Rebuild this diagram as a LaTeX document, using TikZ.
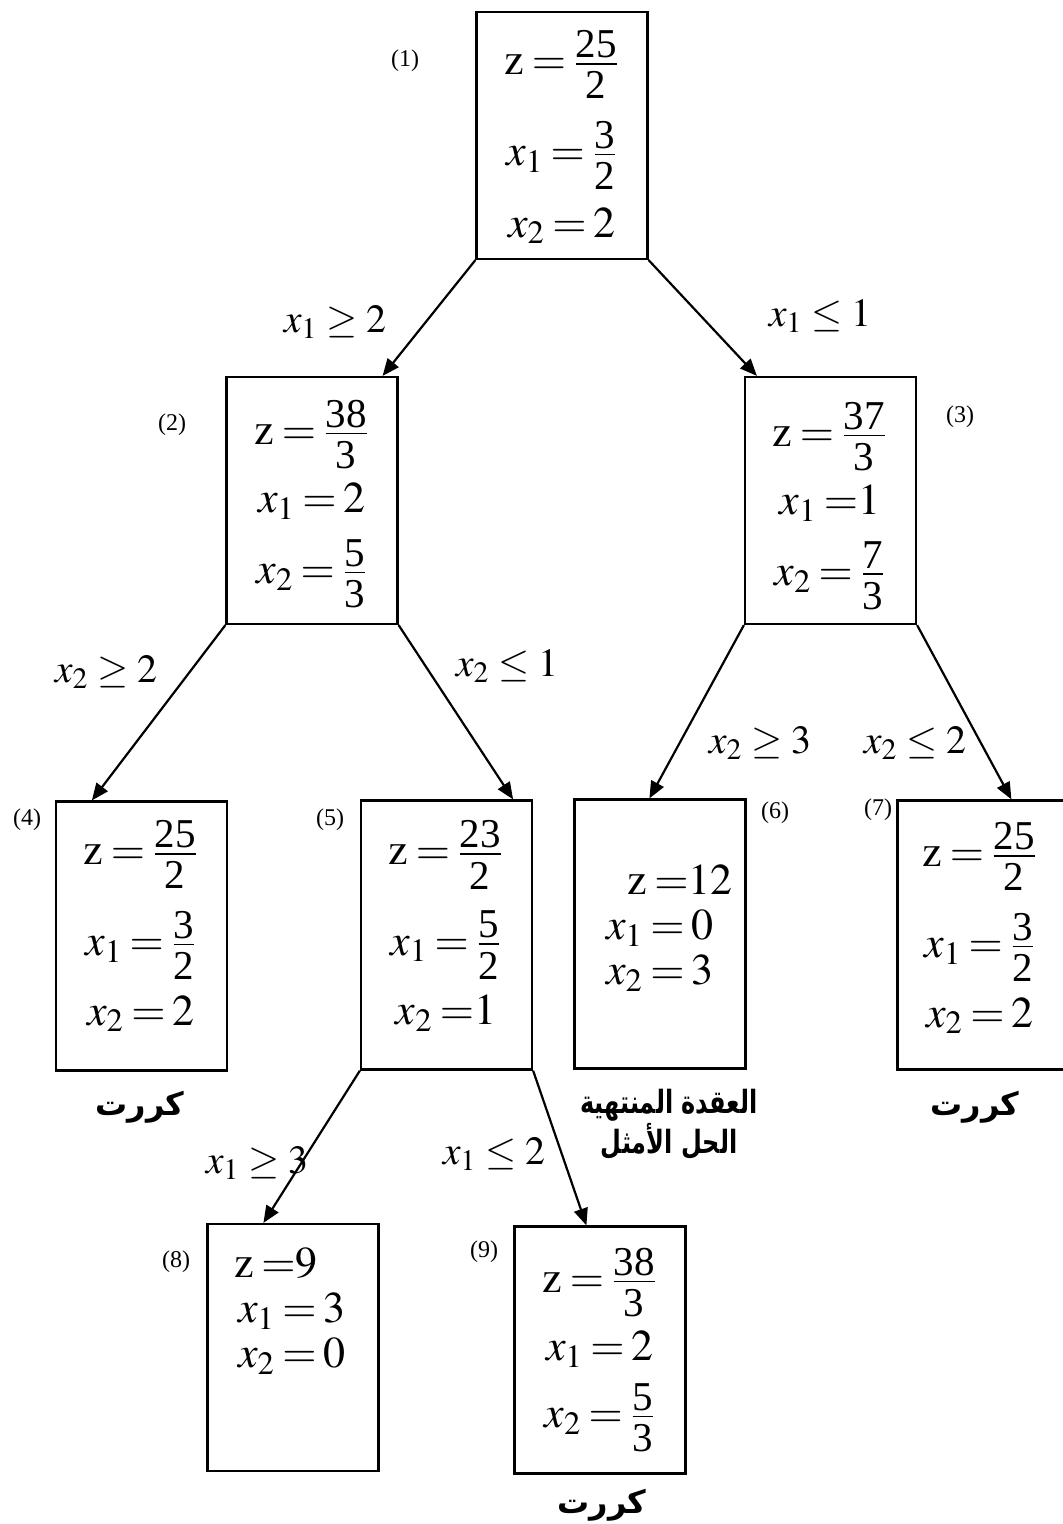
\documentclass[tikz,border=0pt]{standalone}
\usepackage{amsmath}
\usepackage{mathptmx}
\usepackage{graphicx}
\usepackage{fontspec}
\setmainfont{Liberation Serif}
\newfontfamily\arabicfont[Script=Arabic]{DejaVu Sans}
\TeXXeTstate=1
\usetikzlibrary{arrows.meta,calc}
\newcommand{\eqsize}{\fontsize{22}{22.5}\selectfont\thickmuskip=3mu plus 2mu\relax}
\newcommand{\cutsize}{\fontsize{20}{24}\selectfont\thickmuskip=4mu plus 2mu\relax}
% compact fraction with slightly smaller digits
\newcommand{\fr}[2]{\genfrac{}{}{}{1}{\mbox{\fontsize{20.5}{20.5}\selectfont#1}}{\mbox{\fontsize{20.5}{20.5}\selectfont\rule{0pt}{16.3pt}#2}}}

\begin{document}
\begin{tikzpicture}[x=0.5pt,y=-0.5pt,>={Triangle[length=8.5pt,width=7pt]},
  nodebox/.style={draw,line width=1.1pt,minimum width=85.5pt,minimum height=123.5pt,inner sep=0pt},
  tallbox/.style={nodebox,minimum height=134.5pt},
  vals/.style={font=\eqsize,align=center,inner sep=0pt},
  tag/.style={font=\fontsize{12}{14}\selectfont,inner sep=0pt},
  cut/.style={font=\cutsize,inner sep=0pt},
  note/.style={font=\arabicfont\bfseries\fontsize{16}{17}\selectfont,align=center,inner sep=0pt},
  branch/.style={->,line width=1.1pt}]
\useasboundingbox (0,0) rectangle (1062,1524);

% Boxes of the branch-and-bound tree.
\node[nodebox] (n1) at (562,135.5) {};
\node[nodebox] (n2) at (312,500.5) {};
\node[nodebox] (n3) at (830.5,500.5) {};
\node[tallbox] (n4) at (141.5,936) {};
\node[tallbox] (n5) at (446.5,935) {};
\node[tallbox] (n6) at (660,934) {};
\node[tallbox] (n7) at (983,935) {};
\node[nodebox] (n8) at (293,1347.5) {};
\node[nodebox] (n9) at (600,1350) {};

% Values inside each box.
\node[vals] (c1) at (562,137) {$\mathrm{z}=\fr{25}{2}$\\[10pt] $x_1=\fr{3}{2}$\\[8pt] $x_2=2$};
\node[vals] (c2) at (312,504) {$\mathrm{z}=\fr{38}{3}$\\[6pt] $x_1=2$\\[9pt] $x_2=\fr{5}{3}$};
\node[vals] (c3) at (830,506) {$\mathrm{z}=\fr{37}{3}$\\[6pt] $x_1\;{=}1$\\[9pt] $x_2=\fr{7}{3}$};
\node[vals] (c4) at (141,926) {$\mathrm{z}=\fr{25}{2}$\\[10pt] $x_1=\fr{3}{2}$\\[7pt] $x_2=2$};
\node[vals] (c5) at (446,926) {$\mathrm{z}=\fr{23}{2}$\\[10pt] $x_1=\fr{5}{2}$\\[7pt] $x_2\;{=}1$};
\node[vals] (c6) at (660,928) {\hspace*{20pt}$\mathrm{z}\;{=}12$\\ $x_1=0$\\ $x_2=3$};
\node[vals] (c7) at (980,928) {$\mathrm{z}=\fr{25}{2}$\\[10pt] $x_1=\fr{3}{2}$\\[7pt] $x_2=2$};
\node[vals] (c8) at (292,1311) {$\mathrm{z}\;{=}9$\hspace*{16pt}\\ $x_1=3$\\ $x_2=0$};
\node[vals] (c9) at (600,1350) {$\mathrm{z}=\fr{38}{3}$\\[6pt] $x_1=2$\\[7pt] $x_2=\fr{5}{3}$};

% Node numbers.
\node[tag] (t1) at (405,61) {(1)};
\node[tag] (t2) at (172,425) {(2)};
\node[tag] (t3) at (960,417) {(3)};
\node[tag] (t4) at (27,820) {(4)};
\node[tag] (t5) at (330,820) {(5)};
\node[tag] (t6) at (775,813) {(6)};
\node[tag] (t7) at (878,810) {(7)};
\node[tag] (t8) at (176,1262) {(8)};
\node[tag] (t9) at (484,1252) {(9)};

% Branching arrows.
\draw[branch] (n1.south west) -- ($(n2.north east)+(-16,0)$);
\draw[branch] (n1.south east) -- ($(n3.north west)+(13,0)$);
\draw[branch] (n2.south west) -- ($(n4.north west)+(37,0)$);
\draw[branch] (n2.south east) -- ($(n5.north east)+(-20,0)$);
\draw[branch] (n3.south west) -- ($(n6.north west)+(76,0)$);
\draw[branch] (n3.south east) -- ($(n7.north west)+(115,0)$);
\draw[branch] (n5.south west) -- ($(n8.north west)+(57,0)$);
\draw[branch] (n5.south east) -- ($(n9.north west)+(73,0)$);

% Constraints on the branches.
\node[cut] (b2) at (335,322) {$x_1\geq 2$};
\node[cut] (b3) at (820,316) {$x_1\leq 1$};
\node[cut] (b4) at (106,672) {$x_2\geq 2$};
\node[cut] (b5) at (507,666) {$x_2\leq 1$};
\node[cut] (b6) at (760,743) {$x_2\geq 3$};
\node[cut] (b7) at (915,743) {$x_2\leq 2$};
\node[cut] (b8) at (257,1163) {$x_1\geq 3$};
\node[cut] (b9) at (494,1154) {$x_1\leq 2$};

% Remarks under the leaves.
\node[note] (a4) at (140,1107) {\beginR كررت\endR};
\node[note] (a6) at (669,1124) {\scalebox{0.75}[1]{\beginR العقدة المنتهية\endR}\\ \scalebox{0.75}[1]{\beginR الحل الأمثل\endR}};
\node[note] (a7) at (975,1107) {\beginR كررت\endR};
\node[note] (a9) at (602,1505) {\beginR كررت\endR};
\end{tikzpicture}
\end{document}
